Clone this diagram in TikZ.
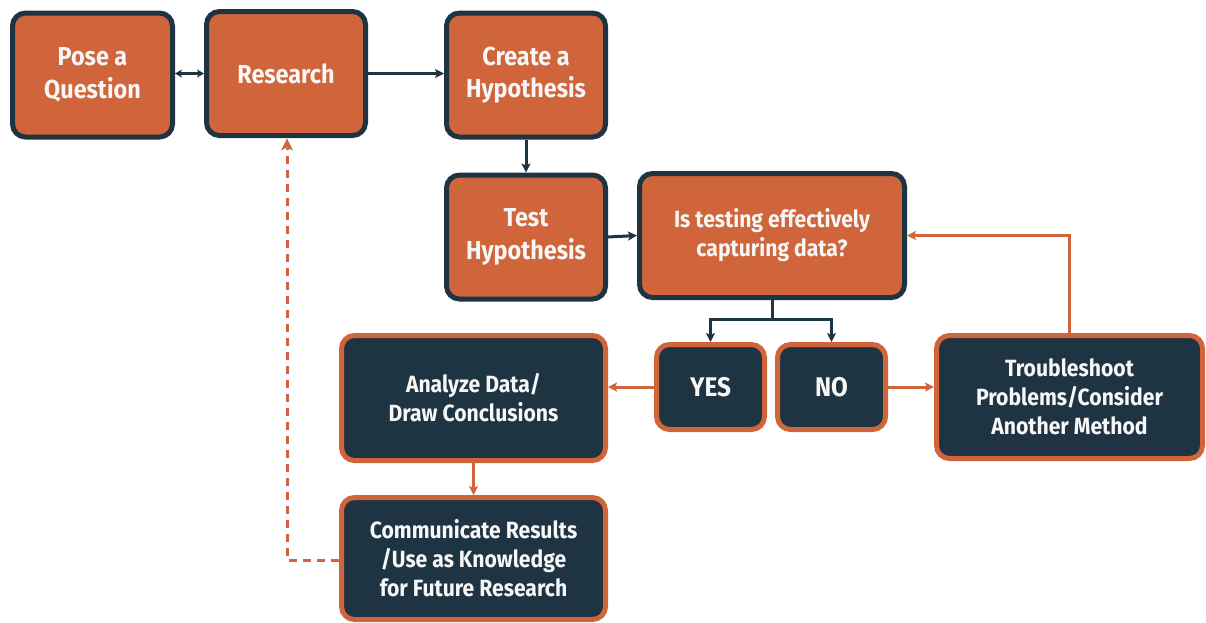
\documentclass[tikz,border=0pt]{standalone}
\usepackage{fontspec}
\newfontfamily\lblfont{Fira Sans}[FakeStretch=0.9]
\usetikzlibrary{arrows.meta}
\definecolor{ora}{HTML}{D0643A}
\definecolor{drk}{HTML}{1F3443}
\definecolor{txt}{HTML}{F7F7F7}
\tikzset{
  obox/.style={draw=drk, fill=ora, line width=5pt, rounded corners=13pt, inner sep=0pt, align=center, text=txt},
  dbox/.style={draw=ora, fill=drk, line width=5pt, rounded corners=13pt, inner sep=0pt, align=center, text=txt},
  big/.style={font=\lblfont\bfseries\fontsize{26}{32.5}\selectfont},
  mid/.style={font=\lblfont\bfseries\fontsize{23.5}{29}\selectfont},
  yn/.style={font=\lblfont\bfseries\fontsize{27}{32}\selectfont},
  darr/.style={draw=drk, line width=3pt, -{Stealth[length=9pt,width=9pt,inset=2pt]}},
  oarr/.style={draw=ora, line width=3pt, -{Stealth[length=9pt,width=9pt,inset=2pt]}},
  oline/.style={draw=ora, line width=3pt},
  dline/.style={draw=drk, line width=3pt},
}
\begin{document}
\begin{tikzpicture}[x=1pt,y=-1pt]
\useasboundingbox (0,0) rectangle (1206,622);
\node[obox,big,minimum width=160pt,minimum height=124pt] (pose) at (92.5,75) {Pose a\\Question};
\node[obox,big,minimum width=159pt,minimum height=124pt] (res) at (286,73.5) {Research};
\node[obox,big,minimum width=159pt,minimum height=124pt] (hyp) at (526,75) {Create a\\Hypothesis};
\node[obox,big,minimum width=159pt,minimum height=124pt] (test) at (526,237) {Test\\Hypothesis};
\node[obox,mid,minimum width=265pt,minimum height=124pt] (isq) at (772,235.5) {Is testing effectively\\capturing data?};
\node[dbox,yn,minimum width=108pt,minimum height=85pt] (yes) at (710.5,387) {YES};
\node[dbox,yn,minimum width=108pt,minimum height=85pt] (no) at (831.5,387) {NO};
\node[dbox,mid,minimum width=266pt,minimum height=123pt] (trb) at (1069.5,397) {Troubleshoot\\Problems/Consider\\Another Method};
\node[dbox,mid,minimum width=264pt,minimum height=125pt] (ana) at (473.5,398) {Analyze Data/\\Draw Conclusions};
\node[dbox,mid,minimum width=264pt,minimum height=122pt] (com) at (473.5,558.5) {Communicate Results\\/Use as Knowledge\\for Future Research};
% connectors
\draw[dline,{Stealth[length=7pt,width=8pt,inset=2pt]}-{Stealth[length=7pt,width=8pt,inset=2pt]}] (res.west -| pose.east) -- (res.west);
\draw[darr] (res.east) -- (hyp.west |- res.east);
\draw[darr] (hyp.south) -- (test.north);
\draw[darr] (test.east) -- (isq.west);
\coordinate (split) at (772,319);
\draw[dline] (isq.south) -- (split);
\draw[darr] (split) -| (yes.north);
\draw[darr] (split) -| (no.north);
\draw[oarr] (yes.west) -- (yes.west -| ana.east);
\draw[oarr] (no.east) -- (no.east -| trb.west);
\draw[oarr] (trb.north) |- (isq.east);
\draw[oarr] (ana.south) -- (com.north);
\coordinate (dc) at (287,560);
\draw[oline,dash pattern=on 8pt off 6pt] (com.west |- dc) -- (dc) -- (287,148);
\draw[ora, fill=ora] (287,139) -- (281.5,150) -- (287,147) -- (292.5,150) -- cycle;
\end{tikzpicture}
\end{document}
